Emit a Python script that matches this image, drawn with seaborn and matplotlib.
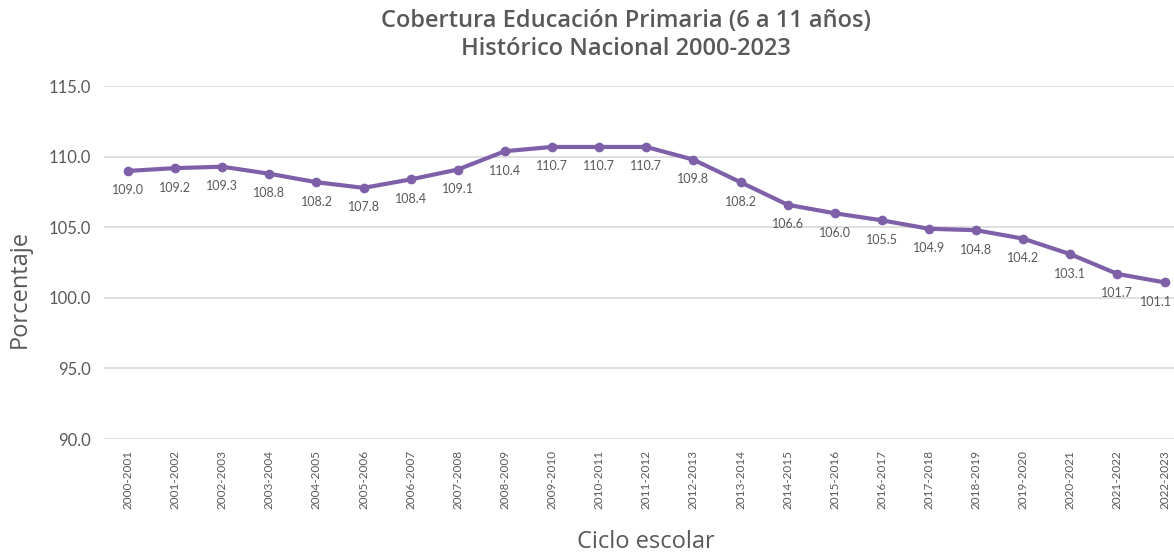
import matplotlib.pyplot as plt
import pandas as pd
import seaborn as sns

# Data
ciclos = ['2000-2001', '2001-2002', '2002-2003', '2003-2004', '2004-2005', '2005-2006',
          '2006-2007', '2007-2008', '2008-2009', '2009-2010', '2010-2011', '2011-2012',
          '2012-2013', '2013-2014', '2014-2015', '2015-2016', '2016-2017', '2017-2018',
          '2018-2019', '2019-2020', '2020-2021', '2021-2022', '2022-2023']
cobertura = [109.0, 109.2, 109.3, 108.8, 108.2, 107.8, 108.4, 109.1, 110.4, 110.7, 110.7, 110.7,
             109.8, 108.2, 106.6, 106.0, 105.5, 104.9, 104.8, 104.2, 103.1, 101.7, 101.1]
y_ticks = [90, 95, 100, 105, 110, 115]

df = pd.DataFrame({'ciclo': ciclos, 'valor': cobertura})

sns.set_style("white")
plt.rcParams['font.family'] = ['Lato', 'DejaVu Sans']

gris = '#595959'
morado = '#7E60A8'

fig = plt.figure(figsize=(11.74, 5.52), dpi=100)
ax = fig.add_axes([0.089, 0.2047, 0.923, 0.639])

sns.lineplot(data=df, x='ciclo', y='valor', sort=False, color=morado, linewidth=3,
             marker='o', markersize=7, markeredgewidth=0, ax=ax)

n = len(cobertura)
for i, v in enumerate(cobertura):
    # last label nudged left so it stays inside the figure
    dx = -6 if i == n - 1 else 0
    ax.annotate(f'{v:.1f}', (i, v), xytext=(dx, -14), textcoords='offset points',
                ha='center', va='center', fontsize=9, color=gris)

ax.set_ylim(90, 115)
ax.set_yticks(y_ticks)
ax.set_yticklabels([f'{t:.1f}' for t in y_ticks], fontsize=12, color=gris)
ax.set_xlim(-0.5, n - 0.5)
ax.set_xticks(range(n))
ax.set_xticklabels(ciclos, rotation=90, fontsize=8.5, color=gris)
ax.tick_params(axis='both', length=0, pad=10)
ax.tick_params(axis='x', pad=8)
ax.grid(axis='y', color='#D9D9D9', linewidth=1.2)
ax.set_axisbelow(True)
for s in ax.spines.values():
    s.set_visible(False)

ax.set_ylabel('Porcentaje', fontsize=17, color=gris, family='Open Sans', va='center')
ax.set_xlabel('Ciclo escolar', fontsize=17, color=gris, family='Open Sans', va='center')
ax.yaxis.set_label_coords(-0.078, 0.425)
ax.xaxis.set_label_coords(0.5, -0.292)

fig.text(0.533, 0.962, 'Cobertura Educación Primaria (6 a 11 años)', ha='center', va='center',
         fontsize=17, fontweight='semibold', color=gris, family='Open Sans')
fig.text(0.533, 0.912, 'Histórico Nacional 2000-2023', ha='center', va='center',
         fontsize=17, fontweight='semibold', color=gris, family='Open Sans')

fig.savefig('out.png', dpi=100)
